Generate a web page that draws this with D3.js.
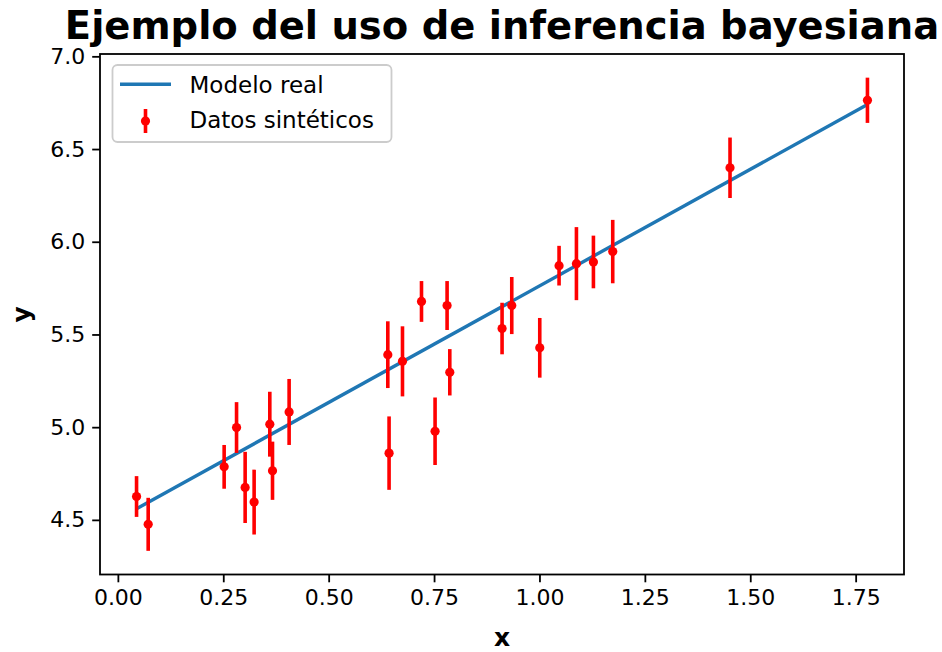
<!DOCTYPE html>
<html>
<head>
<meta charset="utf-8">
<script src="https://cdn.jsdelivr.net/npm/d3@7"></script>
<style>
  html, body { margin: 0; padding: 0; background: #fff; }
  svg { display: block; font-family: "DejaVu Sans", sans-serif; }
</style>
</head>
<body>
<svg id="chart" width="942" height="652"></svg>
<script>
// Synthetic observations with their 1-sigma uncertainties
const xData = [0.0443, 0.0719, 0.2521, 0.2815, 0.3019, 0.3232, 0.3604, 0.3668, 0.4062,
               0.6403, 0.6433, 0.6751, 0.7202, 0.7524, 0.7809, 0.7873, 0.9113, 0.9343,
               1.0007, 1.0465, 1.0877, 1.1280, 1.1738, 1.4520, 1.7780];
const yData = [4.626, 4.476, 4.786, 4.998, 4.675, 4.596, 5.016, 4.765, 5.082,
               5.391, 4.860, 5.355, 5.678, 4.978, 5.656, 5.296, 5.532, 5.656,
               5.428, 5.871, 5.882, 5.891, 5.947, 6.399, 6.763];
const yErr  = [0.110, 0.143, 0.118, 0.137, 0.192, 0.175, 0.175, 0.157, 0.178,
               0.180, 0.198, 0.189, 0.110, 0.182, 0.132, 0.125, 0.139, 0.154,
               0.161, 0.107, 0.197, 0.142, 0.171, 0.163, 0.122];

// True model line, evaluated at the ends of the sampled range
const modelX = [0.0443, 1.7780];
const modelY = [4.560, 6.740];

const xTicks = [0.00, 0.25, 0.50, 0.75, 1.00, 1.25, 1.50, 1.75];
const yTicks = [4.5, 5.0, 5.5, 6.0, 6.5, 7.0];

const titleText = "Ejemplo del uso de inferencia bayesiana";
const xLabel = "x", yLabel = "y";
const legendLabels = ["Modelo real", "Datos sintéticos"];

const BLUE = "#1f77b4", RED = "#ff0000";
const margin = { left: 100, right: 38, top: 54, bottom: 77.5 };
const W = 942, H = 652;
const iw = W - margin.left - margin.right;
const ih = H - margin.top - margin.bottom;

const svg = d3.select("#chart");
const g = svg.append("g").attr("transform", `translate(${margin.left},${margin.top})`);

// autoscale with 5% padding on each side
function padded(lo, hi) { const p = (hi - lo) * 0.05; return [lo - p, hi + p]; }
const xDom = padded(d3.min(xData), d3.max(xData));
const yDom = padded(d3.min(yData, (d, i) => d - yErr[i]), d3.max(yData, (d, i) => d + yErr[i]));

const x = d3.scaleLinear().domain(xDom).range([0, iw]);
const y = d3.scaleLinear().domain(yDom).range([ih, 0]);

// model line
g.append("path")
  .datum(modelX.map((d, i) => [d, modelY[i]]))
  .attr("fill", "none")
  .attr("stroke", BLUE)
  .attr("stroke-width", 3.4)
  .attr("d", d3.line().x(d => x(d[0])).y(d => y(d[1])));

// error bars + points
const pts = g.append("g");
xData.forEach((xv, i) => {
  pts.append("line")
    .attr("x1", x(xv)).attr("x2", x(xv))
    .attr("y1", y(yData[i] - yErr[i])).attr("y2", y(yData[i] + yErr[i]))
    .attr("stroke", RED).attr("stroke-width", 3.6);
  pts.append("circle")
    .attr("cx", x(xv)).attr("cy", y(yData[i]))
    .attr("r", 4.6).attr("fill", RED);
});

// axes
const tickFont = 22;
const xAxis = d3.axisBottom(x).tickValues(xTicks).tickFormat(d3.format(".2f"))
  .tickSizeInner(7.8).tickSizeOuter(0).tickPadding(7);
const yAxis = d3.axisLeft(y).tickValues(yTicks).tickFormat(d3.format(".1f"))
  .tickSizeInner(7.8).tickSizeOuter(0).tickPadding(7);

const gx = g.append("g").attr("transform", `translate(0,${ih})`).call(xAxis);
const gy = g.append("g").call(yAxis);
[gx, gy].forEach(a => {
  a.select(".domain").remove();
  a.selectAll(".tick line").attr("stroke", "#000").attr("stroke-width", 1.8);
  a.selectAll(".tick text").attr("font-size", tickFont).attr("fill", "#000")
    .attr("font-family", "DejaVu Sans");
});

// frame
g.append("rect").attr("x", 0).attr("y", 0).attr("width", iw).attr("height", ih)
  .attr("fill", "none").attr("stroke", "#000").attr("stroke-width", 1.8);

// title and axis labels
svg.append("text")
  .attr("x", margin.left + iw / 2).attr("y", 39)
  .attr("text-anchor", "middle")
  .attr("font-size", 38.5).attr("font-weight", "bold")
  .text(titleText);

svg.append("text")
  .attr("x", margin.left + iw / 2).attr("y", 646)
  .attr("text-anchor", "middle")
  .attr("font-size", 25).attr("font-weight", "bold")
  .text(xLabel);

svg.append("text")
  .attr("transform", `translate(30,${margin.top + ih / 2}) rotate(-90)`)
  .attr("text-anchor", "middle")
  .attr("font-size", 25).attr("font-weight", "bold")
  .text(yLabel);

// legend
const lg = svg.append("g").attr("transform", "translate(112.5,65)");
lg.append("rect").attr("width", 279).attr("height", 77).attr("rx", 5)
  .attr("fill", "#fff").attr("fill-opacity", 0.8)
  .attr("stroke", "#cccccc").attr("stroke-width", 1.8);
lg.append("line").attr("x1", 7.5).attr("x2", 58.5).attr("y1", 19.3).attr("y2", 19.3)
  .attr("stroke", BLUE).attr("stroke-width", 3.4);
lg.append("line").attr("x1", 33).attr("x2", 33).attr("y1", 44).attr("y2", 68)
  .attr("stroke", RED).attr("stroke-width", 3.6);
lg.append("circle").attr("cx", 33).attr("cy", 56).attr("r", 4.6).attr("fill", RED);
lg.selectAll("text.lab").data(legendLabels).join("text")
  .attr("class", "lab")
  .attr("x", 77).attr("y", (d, i) => 27.5 + i * 35.5)
  .attr("font-size", 23)
  .text(d => d);
</script>
</body>
</html>
